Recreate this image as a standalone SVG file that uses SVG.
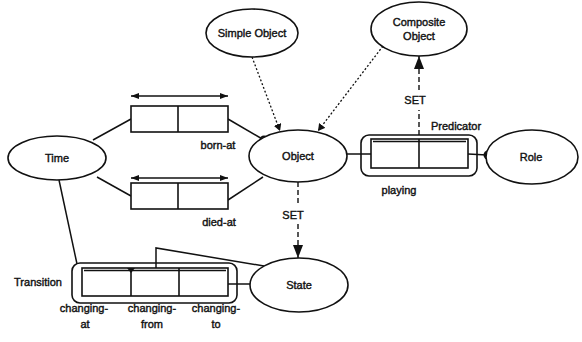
<svg xmlns="http://www.w3.org/2000/svg" width="582" height="342" viewBox="0 0 582 342">
<style>
text{font-family:"Liberation Sans",Arial,sans-serif;font-size:11px;fill:#111;stroke:#111;stroke-width:0.4;text-anchor:middle}
.n{fill:#fff;stroke:#111;stroke-width:1.6}
.b{fill:none;stroke:#111;stroke-width:1.6}
.l{fill:none;stroke:#111;stroke-width:1.5}
.dot{fill:none;stroke:#111;stroke-width:1.3;stroke-dasharray:2 2}
.dash{fill:none;stroke:#111;stroke-width:1.4;stroke-dasharray:5 3}
</style>
<defs>
<marker id="ah" markerWidth="8" markerHeight="6" refX="8" refY="3" orient="auto-start-reverse" markerUnits="userSpaceOnUse">
<path d="M0,0 L8,3 L0,6 Z" fill="#111"/>
</marker>
<marker id="ad" markerWidth="7" markerHeight="8" refX="7" refY="4" orient="auto" markerUnits="userSpaceOnUse">
<path d="M0,0 L7,4 L0,8 Z" fill="#111"/>
</marker>
<marker id="as" markerWidth="13" markerHeight="10" refX="13" refY="5" orient="auto" markerUnits="userSpaceOnUse">
<path d="M0,0 L13,5 L0,10 Z" fill="#111"/>
</marker>
</defs>
<g id="connectors">
<line class="l" x1="93" y1="140" x2="131" y2="119"/>
<line class="l" x1="228" y1="119" x2="264" y2="140"/>
<line class="l" x1="97" y1="177" x2="131" y2="196"/>
<line class="l" x1="228" y1="200" x2="263" y2="177"/>
<line class="l" x1="59" y1="180" x2="77" y2="264"/>
<polyline class="l" points="156,270 156,248 264,266"/>
<line class="l" x1="228" y1="284" x2="251" y2="284"/>
<line class="l" x1="347" y1="154" x2="371" y2="154"/>
<line class="l" x1="468" y1="154" x2="487" y2="155"/>
<line class="dot" x1="252" y1="57" x2="280" y2="131" marker-end="url(#ad)"/>
<line class="dot" x1="383" y1="46" x2="318" y2="131" marker-end="url(#ad)"/>
<line class="dash" x1="419" y1="135" x2="419" y2="110"/>
<line class="dash" x1="419" y1="90" x2="419" y2="56" marker-end="url(#as)"/>
<line class="dash" x1="298" y1="182" x2="298" y2="206"/>
<line class="dash" x1="298" y1="224" x2="298" y2="258" marker-end="url(#as)"/>
<circle cx="264" cy="140" r="4.5" fill="#111"/>
<circle cx="488" cy="155" r="4.5" fill="#111"/>
</g>
<g id="born-at">
<line class="l" x1="131" y1="96" x2="228" y2="96" marker-start="url(#ah)" marker-end="url(#ah)"/>
<rect class="n" x="131" y="106" width="97" height="26"/>
<line class="b" x1="178" y1="106" x2="178" y2="132"/>
<text x="218" y="149">born-at</text>
</g>
<g id="died-at">
<line class="l" x1="131" y1="178" x2="228" y2="178" marker-start="url(#ah)" marker-end="url(#ah)"/>
<rect class="n" x="131" y="183" width="97" height="26"/>
<line class="b" x1="178" y1="183" x2="178" y2="209"/>
<text x="219" y="226">died-at</text>
</g>
<g id="time">
<ellipse class="n" cx="57" cy="158" rx="49" ry="22"/>
<text x="57" y="162">Time</text>
</g>
<g id="simple-object">
<ellipse class="n" cx="252" cy="33" rx="46" ry="24"/>
<text x="252" y="37">Simple Object</text>
</g>
<g id="composite-object">
<ellipse class="n" cx="419" cy="29" rx="48" ry="27"/>
<text x="419" y="26">Composite</text>
<text x="419" y="40">Object</text>
</g>
<g id="object">
<ellipse class="n" cx="298" cy="156" rx="49" ry="26"/>
<text x="298" y="160">Object</text>
</g>
<g id="role">
<ellipse class="n" cx="532" cy="157" rx="46" ry="27"/>
<text x="531" y="161">Role</text>
</g>
<g id="state">
<ellipse class="n" cx="299" cy="285" rx="49" ry="27"/>
<text x="299" y="289">State</text>
</g>
<g id="predicator">
<rect class="b" x="361" y="135" width="116" height="41" rx="8"/>
<rect class="n" x="371" y="139" width="97" height="29"/>
<line class="b" x1="419" y1="139" x2="419" y2="168"/>
<line class="l" x1="373" y1="141.5" x2="466" y2="141.5"/>
<text x="456" y="130">Predicator</text>
<text x="399" y="194">playing</text>
<text x="415" y="104">SET</text>
</g>
<g id="transition">
<rect class="b" x="72" y="263" width="165" height="40" rx="8"/>
<rect class="n" x="82" y="268" width="146" height="28"/>
<line class="b" x1="131" y1="268" x2="131" y2="296"/>
<line class="b" x1="179" y1="268" x2="179" y2="296"/>
<line class="l" x1="84" y1="270.5" x2="226" y2="270.5"/>
<path d="M127,268 L135,268 L131,273 Z" fill="#111"/>
<text x="38" y="286">Transition</text>
<text x="84" y="312">changing-</text>
<text x="85" y="328">at</text>
<text x="152" y="312">changing-</text>
<text x="152" y="328">from</text>
<text x="216" y="312">changing-</text>
<text x="216" y="328">to</text>
<text x="293" y="219">SET</text>
</g>
</svg>
